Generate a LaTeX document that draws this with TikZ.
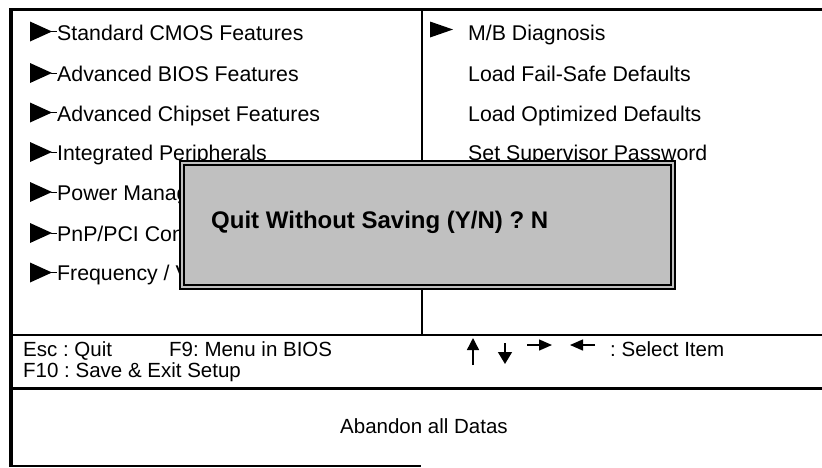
\documentclass[tikz,border=0pt]{standalone}
\usepackage{fontspec}
\setmainfont{Liberation Sans}
\usetikzlibrary{arrows.meta}
\definecolor{dlggray}{RGB}{192,192,192}
\frenchspacing
\begin{document}
\begin{tikzpicture}[x=1pt,y=-1pt,
  menu/.style={anchor=base west, inner sep=0pt, font=\fontsize{21.3}{25}\selectfont},
  foot/.style={anchor=base west, inner sep=0pt, font=\fontsize{20.5}{24}\selectfont},
  mk/.pic={\fill (0,-10) -- (22,0) -- (0,10) -- cycle; \draw[line width=0.8] (21,0) -- (27,0);},
  mkr/.pic={\fill (0,-8) -- (23,0) -- (0,8) -- cycle;},
  keyarrow/.style={line width=1.4, -{Triangle[width=12pt,length=12pt]}},
  ]
\useasboundingbox (0,0) rectangle (822,467);
% frame
\coordinate (tl) at (10.5,8);
\coordinate (bl) at (10.5,467);
\coordinate (tr) at (822,9.5);
\coordinate (t0) at (9,9.5);
\draw[line width=4] (tl) -- (bl);
\draw[line width=3] (t0) -- (tr);
\coordinate (vt) at (422,9.5);
\coordinate (vb) at (422,335);
\draw[line width=2.5] (vt) -- (vb);
\coordinate (h1l) at (10.5,335);
\coordinate (h1r) at (822,335);
\draw[line width=2] (h1l) -- (h1r);
\coordinate (h2l) at (10.5,388);
\coordinate (h2r) at (822,388);
\draw[line width=3] (h2l) -- (h2r);
\coordinate (h3l) at (10.5,465.5);
\coordinate (h3r) at (421,465.5);
\draw[line width=2] (h3l) -- (h3r);
% left menu
\pic at (30,31.5) {mk};
\node[menu] (m1) at (57,40) {Standard CMOS Features};
\pic at (30,73) {mk};
\node[menu] (m2) at (57,81.5) {Advanced BIOS Features};
\pic at (30,112.5) {mk};
\node[menu] (m3) at (57,121) {Advanced Chipset Features};
\pic at (30,152) {mk};
\node[menu] (m4) at (57,160.5) {Integrated Peripherals};
\pic at (30,192) {mk};
\node[menu] (m5) at (57,200.5) {Power Manag};
\pic at (30,233) {mk};
\node[menu] (m6) at (57,241) {PnP/PCI Con};
\pic at (30,272.5) {mk};
\node[menu] (m7) at (57,280.5) {Frequency / V};
% right menu
\pic at (430,29.5) {mkr};
\node[menu] (r1) at (468,40) {M/B Diagnosis};
\node[menu] (r2) at (468,81.5) {Load Fail-Safe Defaults};
\node[menu] (r3) at (468,121) {Load Optimized Defaults};
\node[menu] (r4) at (468,160.5) {Set Supervisor Password};
% dialog
\node (dlg) [draw, line width=2, double=dlggray, double distance=2.5, fill=dlggray,
  minimum width=491pt, minimum height=124pt, inner sep=0pt] at (427.5,225) {};
\node (q) [anchor=base west, inner sep=0pt, font=\fontsize{24}{28}\selectfont\bfseries] at (211,228) {Quit Without Saving (Y/N) ? N};
% footer
\node[foot] (esc) at (23,356) {Esc : Quit};
\node[foot] (f9) at (169,356) {F9: Menu in BIOS};
\node[foot] (f10) at (23,377) {F10 : Save \& Exit Setup};
\node[foot] (sel) at (610,356) {: Select Item};
\node[foot] (ab) at (340,433) {Abandon all Datas};
\coordinate (ua1) at (473,365); \coordinate (ua2) at (473,338);
\draw[keyarrow] (ua1) -- (ua2);
\coordinate (da1) at (505,343); \coordinate (da2) at (505,364);
\draw[keyarrow, -{Triangle[width=14pt,length=12pt]}] (da1) -- (da2);
\coordinate (ra1) at (527,345); \coordinate (ra2) at (552,345);
\draw[keyarrow, -{Triangle[width=11pt,length=13pt]}] (ra1) -- (ra2);
\coordinate (la1) at (595,345); \coordinate (la2) at (570,345);
\draw[keyarrow, -{Triangle[width=11pt,length=13pt]}] (la1) -- (la2);
\end{tikzpicture}
\end{document}
